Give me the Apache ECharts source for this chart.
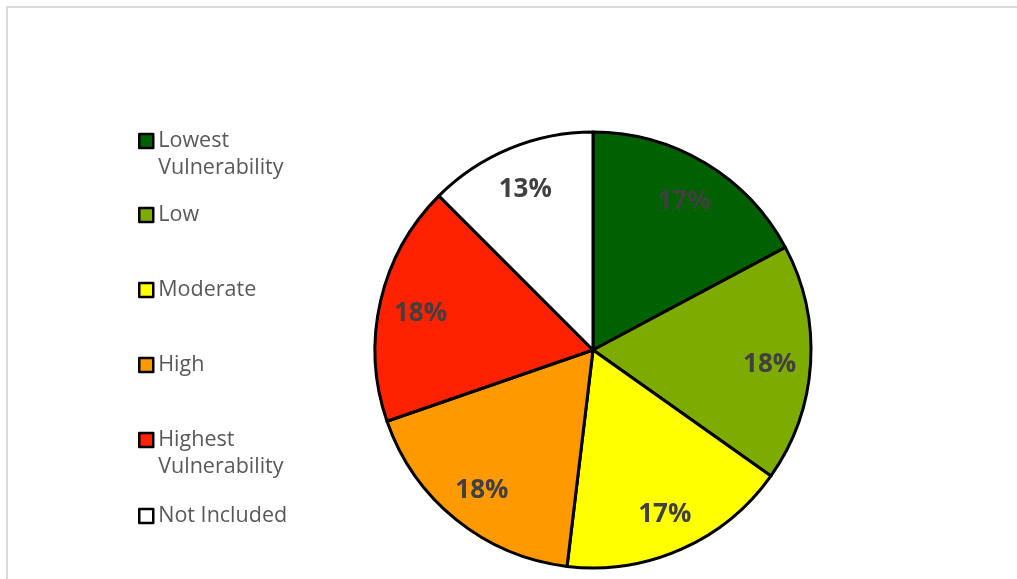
<!DOCTYPE html>
<html>
<head>
<meta charset="utf-8">
<script src="https://cdn.jsdelivr.net/npm/echarts@6/dist/echarts.min.js"></script>
<style>
  html, body { margin: 0; padding: 0; background: #ffffff; }
  #frame { position: absolute; left: 6px; top: 6px; width: 1011px; height: 573px;
           border-top: 2px solid #d9d9d9; border-left: 2px solid #d9d9d9; box-sizing: border-box; }
  #chart { position: absolute; left: 0; top: 0; width: 1017px; height: 579px; }
</style>
</head>
<body>
<div id="frame"></div>
<div id="chart"></div>
<script>
const categories = ['Lowest Vulnerability', 'Low', 'Moderate', 'High', 'Highest Vulnerability', 'Not Included'];
const legendLabels = ['Lowest\nVulnerability', 'Low', 'Moderate', 'High', 'Highest\nVulnerability', 'Not Included'];
const shares = [17.2, 17.6, 17.1, 17.8, 17.8, 12.5];
const colors = ['#006100', '#7dab00', '#ffff00', '#ff9900', '#ff2200', '#ffffff'];

const chart = echarts.init(document.getElementById('chart'));

const FONT = '"Open Sans", "Noto Sans", sans-serif';
const L = 27;
const legendCenters = [141, 215, 290, 365, 440, 516];

const legends = categories.map((name, i) => {
  const twoLine = legendLabels[i].indexOf('\n') >= 0;
  // a blank first line keeps the icon aligned with the first text line
  const text = twoLine ? ' \n' + legendLabels[i] : legendLabels[i];
  return {
    data: [name],
    orient: 'vertical',
    left: 138,
    top: legendCenters[i] - (twoLine ? 1.5 * L : L / 2),
    padding: 0,
    itemWidth: 14,
    itemHeight: 14,
    icon: 'rect',
    selectedMode: false,
    itemStyle: { borderColor: '#000000', borderWidth: 2.5 },
    formatter: () => text,
    textStyle: {
      fontFamily: FONT,
      fontSize: 21.5,
      color: '#595959',
      lineHeight: L
    }
  };
});

const pieData = categories.map((name, i) => ({
  name: name,
  value: shares[i],
  itemStyle: { color: colors[i] }
}));

chart.setOption({
  animation: false,
  color: colors,
  legend: legends,
  series: [
    {
      type: 'pie',
      center: [593, 350],
      radius: 218,
      startAngle: 90,
      clockwise: true,
      label: { show: false },
      labelLine: { show: false },
      emphasis: { disabled: true },
      itemStyle: { borderColor: '#000000', borderWidth: 3 },
      data: pieData
    },
    {
      type: 'pie',
      center: [593, 353],
      radius: [130, 218],
      startAngle: 90,
      clockwise: true,
      silent: true,
      emphasis: { disabled: true },
      itemStyle: { color: 'rgba(0,0,0,0)', borderWidth: 0 },
      labelLine: { show: false },
      label: {
        show: true,
        position: 'inside',
        fontFamily: FONT,
        fontWeight: 'bold',
        fontSize: 26,
        color: '#404040',
        formatter: p => Math.round(p.value) + '%'
      },
      data: categories.map((name, i) => ({ name: name, value: shares[i] }))
    }
  ]
});
</script>
</body>
</html>
